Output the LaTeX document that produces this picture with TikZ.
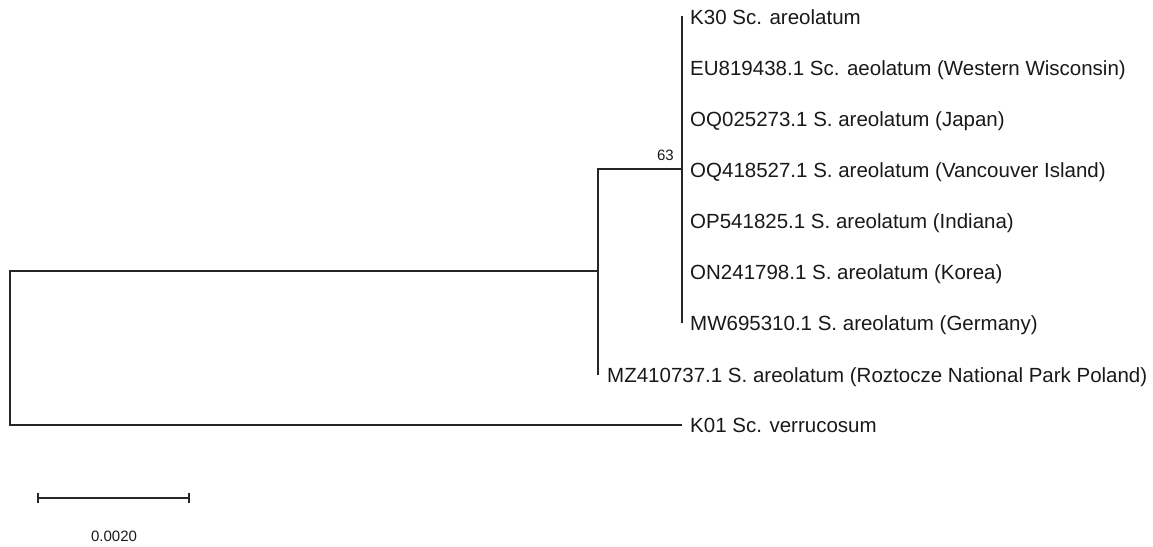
\documentclass[tikz,border=0pt]{standalone}
\usepackage{fontspec}
\setmainfont{Liberation Sans}
\begin{document}
\begin{tikzpicture}[x=1pt,y=-1pt,
  branch/.style={line width=1.3pt,draw=black!85,line cap=rect},
  leaflabel/.style={anchor=base west,inner sep=0pt,font=\fontsize{20.5}{22}\selectfont,text=black!90},
  smalllabel/.style={inner sep=0pt,font=\fontsize{15}{16}\selectfont,text=black!90}]
\useasboundingbox (0,0) rectangle (1153,546);
% internal nodes
\coordinate (root) at (10,271);
\coordinate (rootlow) at (10,425);
\coordinate (c1) at (598,271);
\coordinate (c1top) at (598,169);
\coordinate (c2) at (682,169);
% leaves
\coordinate (l1) at (682,17);
\coordinate (l2) at (682,68);
\coordinate (l3) at (682,119);
\coordinate (l4) at (682,170);
\coordinate (l5) at (682,221);
\coordinate (l6) at (682,272);
\coordinate (l7) at (682,322);
\coordinate (l8) at (598,374);
\coordinate (l9) at (681,425);
% branches
\draw[branch] (root) -- (rootlow);
\draw[branch] (root) -- (c1);
\draw[branch] (rootlow) -- (l9);
\draw[branch] (c1top) -- (l8);
\draw[branch] (c1top) -- (c2);
\draw[branch] (l1) -- (l7);
% labels
\node[leaflabel] (t1) at (690,24.5) {K30 Sc. areolatum};
\node[leaflabel] (t2) at (690,75.5) {EU819438.1 Sc. aeolatum (Western Wisconsin)};
\node[leaflabel] (t3) at (690,126.5) {OQ025273.1 S. areolatum (Japan)};
\node[leaflabel] (t4) at (690,177.5) {OQ418527.1 S. areolatum (Vancouver Island)};
\node[leaflabel] (t5) at (690,228.5) {OP541825.1 S. areolatum (Indiana)};
\node[leaflabel] (t6) at (690,279.5) {ON241798.1 S. areolatum (Korea)};
\node[leaflabel] (t7) at (690,330.5) {MW695310.1 S. areolatum (Germany)};
\node[leaflabel] (t8) at (607,382) {MZ410737.1 S. areolatum (Roztocze National Park Poland)};
\node[leaflabel] (t9) at (690,432.5) {K01 Sc. verrucosum};
% bootstrap
\node[smalllabel,anchor=base east] (bs) at (674,160) {63};
% scale bar
\coordinate (sb1) at (38,498);
\coordinate (sb2) at (189,498);
\draw[branch,line cap=butt] (sb1) -- (sb2);
\draw[branch,line cap=butt] ([yshift=-5pt]sb1) -- ([yshift=5pt]sb1);
\draw[branch,line cap=butt] ([yshift=-5pt]sb2) -- ([yshift=5pt]sb2);
\node[smalllabel,anchor=base] (sbl) at (114,541) {0.0020};
\end{tikzpicture}
\end{document}
